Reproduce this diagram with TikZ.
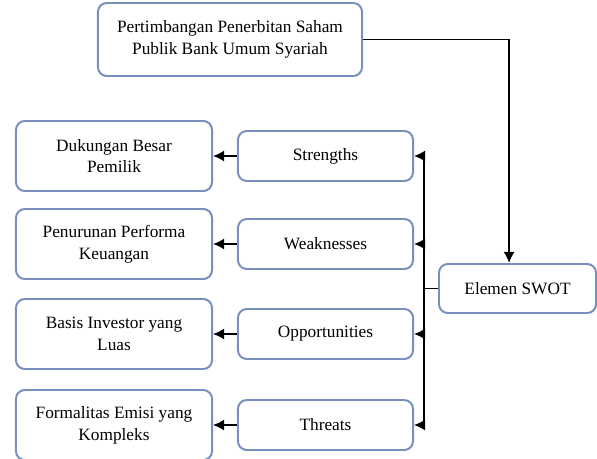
\documentclass[tikz,border=0pt]{standalone}
\usepackage{fontspec}
\setmainfont{Liberation Serif}
\usetikzlibrary{arrows.meta}
\definecolor{garisbiru}{RGB}{120,144,192}

\begin{document}
\begin{tikzpicture}[x=0.025cm, y=-0.025cm,
    kotak/.style={draw=garisbiru, line width=1.4pt, fill=white, rounded corners=0.22cm, align=center, inner sep=2pt, font=\fontsize{12.3}{15.5}\selectfont},
    tengah/.style={kotak, minimum width=4.375cm, minimum height=1.25cm},
    kiri/.style={kotak, minimum width=4.9cm, minimum height=1.75cm},
    panah/.style={-{Latex[length=2.8mm,width=2.8mm]}, line width=1.1pt}]
    \useasboundingbox (0,0) rectangle (597,459);

    % Judul (atas)
    \node[kotak, minimum width=6.6cm, minimum height=1.825cm] (judul) at (230,39.5) {Pertimbangan Penerbitan Saham\\Publik Bank Umum Syariah};

    % Elemen SWOT
    \node[kotak, minimum width=3.925cm, minimum height=1.225cm] (elemen) at (517.5,288.5) {Elemen SWOT};

    % Kolom tengah - unsur SWOT
    \node[tengah] (strengths) at (325.5,156) {Strengths};
    \node[tengah] (weaknesses) at (325.5,244) {Weaknesses};
    \node[tengah] (opportunities) at (325.5,334) {Opportunities};
    \node[tengah] (threats) at (325.5,425) {Threats};

    % Kolom kiri - uraian
    \node[kiri] (dukungan) at (114,156) {Dukungan Besar\\Pemilik};
    \node[kiri] (penurunan) at (114,244) {Penurunan Performa\\Keuangan};
    \node[kiri] (basis) at (114,334) {Basis Investor yang\\Luas};
    \node[kiri] (formalitas) at (114,425) {Formalitas Emisi yang\\Kompleks};

    % Panah dari judul ke elemen
    \draw[panah] (judul.east) -| ([xshift=-0.21cm]elemen.north);

    % Panah dari elemen ke unsur SWOT
    \foreach \n in {strengths,weaknesses,opportunities,threats}
        \draw[panah] (elemen.west) -- ++(-14,0) |- (\n.east);

    % Panah ke uraian
    \draw[panah] (strengths.west) -- (dukungan.east);
    \draw[panah] (weaknesses.west) -- (penurunan.east);
    \draw[panah] (opportunities.west) -- (basis.east);
    \draw[panah] (threats.west) -- (formalitas.east);
\end{tikzpicture}
\end{document}
